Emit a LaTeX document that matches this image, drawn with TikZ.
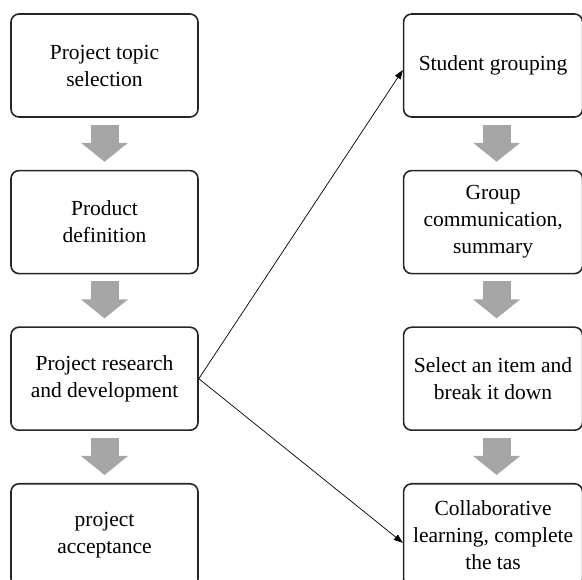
\documentclass[tikz,border=0pt]{standalone}
\usepackage{fontspec}
\setmainfont{Liberation Serif}
\usetikzlibrary{arrows.meta,calc,positioning}
\definecolor{arrowgray}{HTML}{A6A6A6}
\tikzset{
    box/.style = {draw=black!85, line width=1.6pt, rectangle,
        rounded corners=8pt,
        minimum height=103pt,
        minimum width=187pt,
        inner sep=0pt, align=center,
        font=\fontsize{21.5}{27}\selectfont},
    rbox/.style = {box, minimum width=179pt},
    flow/.style = {draw=arrowgray, line width=28pt,
        -{Triangle[width=46pt,length=19pt]},
        shorten <=7pt, shorten >=8pt},
}

\begin{document}
\begin{tikzpicture}[x=1pt, y=1pt, node distance=52pt, >={Triangle[length=9pt,width=6.5pt]}]
		\useasboundingbox (0,0) rectangle (582,-580);
		% Project topic selection
		\node [box] (topic) at (104.5,-65.5) {Project topic\\selection};
		% Product definition
		\node [box, below=of topic] (product) {Product\\definition};
		% Project research and development
		\node [box, below=of product] (research) {Project research\\and development};
		% project acceptance
		\node [box, below=of research] (accept) {project\\acceptance};
		
		% Student grouping
		\node [rbox, right=204pt of topic] (grouping) {Student grouping};
		% Group communication
		\node [rbox, below=of grouping] (communic) {Group\\communication,\\summary};
		% Select an item
		\node [rbox, below=of communic] (select) {Select an item and\\break it down};
		% Collaborative learning
		\node [rbox, below=of select] (collab) {Collaborative\\learning, complete\\the tas};
		
		% gray arrows
		\draw [flow] (topic) -- (product);
		\draw [flow] (product) -- (research);
		\draw [flow] (research) -- (accept);
		\draw [flow] ([xshift=3.5pt]grouping.south) -- ([xshift=3.5pt]communic.north);
		\draw [flow] ([xshift=3.5pt]communic.south) -- ([xshift=3.5pt]select.north);
		\draw [flow] ([xshift=3.5pt]select.south) -- ([xshift=3.5pt]collab.north);
		
		% connecting lines
		\draw [->, line width=0.7pt] (research.east) -- ([yshift=-4.5pt]grouping.west);
		\draw [->, line width=0.7pt] (research.east) -- ([yshift=-7.5pt]collab.west);
	\end{tikzpicture}
\end{document}
